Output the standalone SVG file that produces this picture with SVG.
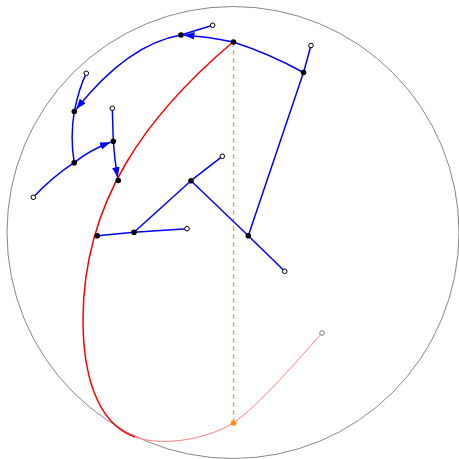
<svg xmlns="http://www.w3.org/2000/svg" width="459" height="459" viewBox="0 0 459 459">
<style>
.e{fill:none;stroke:#0000ff;stroke-width:1.5}
.n{fill:#000;stroke:none}
.o{fill:#fff;stroke:#000;stroke-width:1}
</style>
<defs>
<marker id="ar" markerUnits="userSpaceOnUse" markerWidth="11" markerHeight="8" refX="10.5" refY="3.75" orient="auto">
<path d="M0,0 L10.5,3.75 L0,7.5 z" fill="#0000ff"/>
</marker>
</defs>
<rect width="459" height="459" fill="#fff"/>
<circle cx="233" cy="232.5" r="226" fill="none" stroke="#888" stroke-width="1"/>
<g id="geodesic">
<path d="M233,42 C148,114 83,200 83,320 C83,370 95,423 135,437" fill="none" stroke="#ff0000" stroke-width="1.5"/>
<path d="M135,437 C163,447 208,439 233,423 C258,407 302,355 322,333" fill="none" stroke="#ff8080" stroke-width="1"/>
<line x1="233.5" y1="42" x2="233.5" y2="423" stroke="#f4a442" stroke-width="1.3" stroke-dasharray="5,3"/>
</g>
<g id="connectors">
<path class="e" d="M303.5,72.5 Q268,53 233,42"/>
<path class="e" d="M233,42 Q207,36.5 184,35.2" marker-end="url(#ar)"/>
<line class="e" x1="212.7" y1="25.3" x2="181" y2="35"/>
<line class="e" x1="311" y1="45.5" x2="303.5" y2="72.5"/>
<line class="e" x1="303.5" y1="72.5" x2="248.3" y2="235.7"/>
<path class="e" d="M181,35 Q128,44 76.2,109.2" marker-end="url(#ar)"/>
<path class="e" d="M86.3,73.3 Q79,88 74.3,111.5"/>
<path class="e" d="M74.3,111.5 Q70,137 74.2,162.7"/>
<path class="e" d="M74.2,162.7 Q52.8,176.6 33.3,197.3"/>
<path class="e" d="M74.2,162.7 Q90,150 110.5,142.3" marker-end="url(#ar)"/>
<line class="e" x1="112.3" y1="108.3" x2="113.3" y2="141.3"/>
<path class="e" d="M113.3,141.3 Q114.5,160 117.7,177.6" marker-end="url(#ar)"/>
<line class="e" x1="97.3" y1="235.7" x2="134" y2="232.3"/>
<line class="e" x1="134" y1="232.3" x2="187" y2="228.7"/>
<line class="e" x1="134" y1="232.3" x2="191" y2="180.7"/>
<line class="e" x1="191" y1="180.7" x2="222.3" y2="156.3"/>
<line class="e" x1="191" y1="180.7" x2="248.3" y2="235.7"/>
<line class="e" x1="248.3" y1="235.7" x2="284.7" y2="271.3"/>
</g>
<g id="nA"><circle class="n" cx="233.5" cy="42" r="2.8"/></g>
<g id="nB"><circle class="n" cx="181" cy="35" r="2.8"/></g>
<g id="nC"><circle class="n" cx="303.5" cy="72.5" r="2.8"/></g>
<g id="nD"><circle class="n" cx="74.3" cy="111.5" r="2.8"/></g>
<g id="nE"><circle class="n" cx="74.2" cy="162.7" r="2.8"/></g>
<g id="nF"><circle class="n" cx="113.3" cy="141.3" r="2.8"/></g>
<g id="nG"><circle class="n" cx="118.3" cy="180.5" r="2.8"/></g>
<g id="nH"><circle class="n" cx="97.3" cy="235.7" r="2.8"/></g>
<g id="nI"><circle class="n" cx="134" cy="232.3" r="2.8"/></g>
<g id="nJ"><circle class="n" cx="191" cy="180.7" r="2.8"/></g>
<g id="nK"><circle class="n" cx="248.3" cy="235.7" r="2.8"/></g>
<g id="o1"><circle class="o" cx="212.7" cy="25.3" r="2.3"/></g>
<g id="o2"><circle class="o" cx="311" cy="45.5" r="2.3"/></g>
<g id="o3"><circle class="o" cx="86.3" cy="73.3" r="2.3"/></g>
<g id="o4"><circle class="o" cx="33.3" cy="197.3" r="2.3"/></g>
<g id="o5"><circle class="o" cx="112.3" cy="108.3" r="2.3"/></g>
<g id="o6"><circle class="o" cx="187" cy="228.7" r="2.3"/></g>
<g id="o7"><circle class="o" cx="222.3" cy="156.3" r="2.3"/></g>
<g id="o8"><circle class="o" cx="284.7" cy="271.3" r="2.3"/></g>
<g id="o9"><circle cx="322" cy="333" r="2.3" fill="#fff" stroke="#777" stroke-width="1"/></g>
<g id="orange"><circle cx="233.5" cy="423" r="2.8" fill="#ff8c00"/></g>
</svg>
